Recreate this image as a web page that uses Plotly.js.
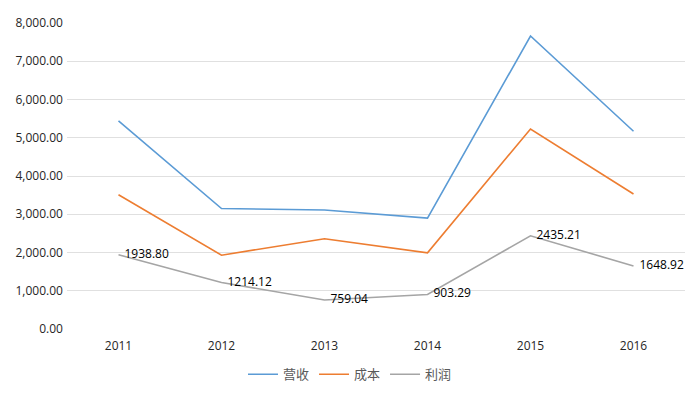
<!DOCTYPE html>
<html><head><meta charset="utf-8">
<script src="https://cdn.plot.ly/plotly-3.0.1.min.js"></script>
<style>html,body{margin:0;padding:0;background:#fff}#c{width:700px;height:394px}</style>
</head><body><div id="c"></div>
<script>
const years = ['2011','2012','2013','2014','2015','2016'];
const revenue = [5440, 3150, 3110, 2900, 7660, 5170];
const cost = [3510, 1930, 2360, 1990, 5230, 3530];
const profit = [1938.80, 1214.12, 759.04, 903.29, 2435.21, 1648.92];
const profitLabels = ['1938.80','1214.12','759.04','903.29','2435.21','1648.92'];

const fam = '"Open Sans", "Noto Sans CJK SC", sans-serif';
const traces = [
  {x: years, y: revenue, name: '营收', mode: 'lines', line: {color: '#5B9BD5', width: 1.6}},
  {x: years, y: cost, name: '成本', mode: 'lines', line: {color: '#ED7D31', width: 1.6}},
  {x: years, y: profit, name: '利润', mode: 'lines+text', line: {color: '#A5A5A5', width: 1.6},
   text: profitLabels.map(s => '\u2002' + s), textposition: 'middle right', textfont: {family: fam, size: 12, color: '#000'}}
];
const layout = {
  width: 700, height: 394,
  margin: {l: 67, r: 15, t: 23, b: 65},
  paper_bgcolor: '#fff', plot_bgcolor: '#fff',
  font: {family: fam, size: 12, color: '#262626'},
  showlegend: true,
  legend: {orientation: 'h', x: 0.5, xanchor: 'center', xref: 'container', yref: 'container', y: 0.05, yanchor: 'middle', itemwidth: 30, font: {family: fam, size: 13, color: '#595959'}},
  xaxis: {type: 'category', showgrid: false, zeroline: false, showline: false, ticks: '', ticklabelstandoff: 8, range: [-0.5, 5.5], tickfont: {size: 12, color: '#262626'}},
  yaxis: {range: [0, 8000], dtick: 1000, tickformat: ',.2f', gridcolor: '#E0E0E0', gridwidth: 1, zeroline: false, showline: false, ticks: '', tickfont: {size: 12, color: '#262626'}, ticksuffix: ' '}
};
Plotly.newPlot('c', traces, layout, {displayModeBar: false, staticPlot: true});
</script></body></html>
